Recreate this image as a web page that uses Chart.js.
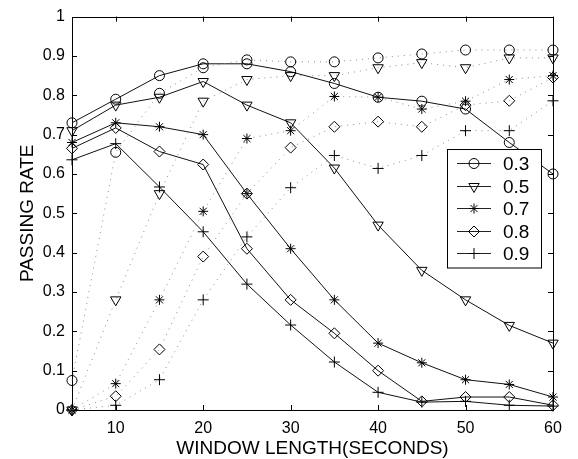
<!DOCTYPE html>
<html>
<head>
<meta charset="utf-8">
<script src="https://cdn.jsdelivr.net/npm/chart.js@4/dist/chart.umd.min.js"></script>
<style>
  html, body { margin: 0; padding: 0; background: #fff; }
  #wrap { width: 578px; height: 459px; }
</style>
</head>
<body>
<div id="wrap"><canvas id="chart"></canvas></div>
<script>
// window length (seconds)
const windowLength = [5, 10, 15, 20, 25, 30, 35, 40, 45, 50, 55, 60];
const xTicks = [10, 20, 30, 40, 50, 60];
const yTicks = [0, 0.1, 0.2, 0.3, 0.4, 0.5, 0.6, 0.7, 0.8, 0.9, 1];

// thresholds shown in the legend
const thresholds = ['0.3', '0.5', '0.7', '0.8', '0.9'];

// solid curves
const solid03 = [0.73, 0.79, 0.85, 0.88, 0.88, 0.86, 0.83, 0.795, 0.785, 0.765, 0.68, 0.60];
const solid05 = [0.71, 0.775, 0.795, 0.835, 0.775, 0.73, 0.615, 0.47, 0.355, 0.28, 0.215, 0.17];
const solid07 = [0.68, 0.73, 0.72, 0.70, 0.55, 0.41, 0.28, 0.17, 0.12, 0.077, 0.065, 0.033];
const solid08 = [0.665, 0.717, 0.657, 0.624, 0.41, 0.28, 0.195, 0.10, 0.022, 0.033, 0.033, 0.012];
const solid09 = [0.636, 0.677, 0.567, 0.453, 0.32, 0.216, 0.122, 0.045, 0.02, 0.022, 0.012, 0.01];

// dotted curves
const dotted03 = [0.075, 0.655, 0.805, 0.87, 0.89, 0.885, 0.885, 0.895, 0.905, 0.915, 0.915, 0.915];
const dotted05 = [0, 0.28, 0.55, 0.785, 0.84, 0.85, 0.85, 0.87, 0.883, 0.87, 0.895, 0.895];
const dotted07 = [0, 0.067, 0.28, 0.505, 0.69, 0.71, 0.797, 0.795, 0.765, 0.785, 0.84, 0.85];
const dotted08 = [0, 0.035, 0.154, 0.39, 0.55, 0.667, 0.72, 0.733, 0.72, 0.775, 0.786, 0.845];
const dotted09 = [0, 0.012, 0.077, 0.28, 0.44, 0.565, 0.647, 0.614, 0.647, 0.71, 0.71, 0.786];

const solidSeries = [solid03, solid05, solid07, solid08, solid09];
const dottedSeries = [dotted03, dotted05, dotted07, dotted08, dotted09];
const markers = [
  { style: 'circle', rotation: 0, radius: 5 },
  { style: 'triangle', rotation: 180, radius: 6 },
  { style: 'star', rotation: 0, radius: 5 },
  { style: 'rectRot', rotation: 0, radius: 5.5 },
  { style: 'cross', rotation: 0, radius: 5.5 }
];

const FONT = "'Liberation Sans', Arial, Helvetica, sans-serif";

function toPoints(values) {
  return windowLength.map((x, i) => ({ x: x, y: values[i] }));
}

const datasets = [];
dottedSeries.forEach((vals, i) => {
  datasets.push({
    label: thresholds[i] + ' dotted',
    data: toPoints(vals),
    borderColor: '#8a8a8a',
    borderWidth: 1,
    borderDash: [1, 5],
    pointStyle: markers[i].style,
    pointRotation: markers[i].rotation,
    pointRadius: markers[i].radius,
    pointBorderColor: '#000',
    pointBackgroundColor: 'rgba(0,0,0,0)',
    pointBorderWidth: 1,
    tension: 0,
    clip: false,
    inLegend: false
  });
});
solidSeries.forEach((vals, i) => {
  datasets.push({
    label: thresholds[i],
    data: toPoints(vals),
    borderColor: '#111',
    borderWidth: 1,
    pointStyle: markers[i].style,
    pointRotation: markers[i].rotation,
    pointRadius: markers[i].radius,
    pointBorderColor: '#000',
    pointBackgroundColor: 'rgba(0,0,0,0)',
    pointBorderWidth: 1,
    tension: 0,
    clip: false,
    inLegend: true
  });
});

// box around the plot with inward tick marks on all sides
const frameTicks = {
  id: 'frameTicks',
  beforeDatasetsDraw(chart) {
    const { ctx, chartArea: a, scales } = chart;
    const len = 5;
    ctx.save();
    ctx.strokeStyle = '#000';
    ctx.lineWidth = 1;
    ctx.beginPath();
    ctx.rect(Math.round(a.left) + 0.5, Math.round(a.top) + 0.5,
      Math.round(a.right - a.left), Math.round(a.bottom - a.top));
    xTicks.forEach(v => {
      const px = Math.round(scales.x.getPixelForValue(v)) + 0.5;
      ctx.moveTo(px, a.bottom);
      ctx.lineTo(px, a.bottom - len);
      ctx.moveTo(px, a.top);
      ctx.lineTo(px, a.top + len);
    });
    yTicks.forEach(v => {
      const py = Math.round(scales.y.getPixelForValue(v)) + 0.5;
      ctx.moveTo(a.left, py);
      ctx.lineTo(a.left + len, py);
      ctx.moveTo(a.right, py);
      ctx.lineTo(a.right - len, py);
    });
    ctx.stroke();
    ctx.restore();
  }
};

// legend box inside the plot
const boxLegend = {
  id: 'boxLegend',
  afterDatasetsDraw(chart) {
    const { ctx } = chart;
    const items = chart.data.datasets.filter(d => d.inLegend);
    const left = 447, top = 149, width = 94, rowH = 22.5;
    const height = items.length * rowH + 6;
    ctx.save();
    ctx.fillStyle = '#fff';
    ctx.fillRect(left, top, width, height);
    ctx.strokeStyle = '#000';
    ctx.lineWidth = 1;
    ctx.strokeRect(left + 0.5, top + 0.5, width, height);
    items.forEach((d, i) => {
      const y = Math.round(top + 14 + i * rowH) + 0.5;
      ctx.strokeStyle = '#222';
      ctx.beginPath();
      ctx.moveTo(left + 10, y);
      ctx.lineTo(left + 44, y);
      ctx.stroke();
      ctx.strokeStyle = '#000';
      ctx.fillStyle = 'rgba(0,0,0,0)';
      Chart.helpers.drawPoint(ctx, {
        pointStyle: d.pointStyle,
        rotation: d.pointRotation,
        radius: d.pointRadius,
        borderWidth: 1
      }, left + 27, y);
      ctx.fillStyle = '#000';
      ctx.font = '19px ' + FONT;
      ctx.textAlign = 'left';
      ctx.textBaseline = 'middle';
      ctx.fillText(d.label, left + 56, y + 1);
    });
    ctx.restore();
  }
};

new Chart(document.getElementById('chart'), {
  type: 'line',
  data: { datasets: datasets },
  plugins: [frameTicks, boxLegend],
  options: {
    responsive: true,
    maintainAspectRatio: false,
    animation: false,
    layout: { padding: { left: 0, right: 25, top: 8, bottom: 0 } },
    plugins: {
      legend: { display: false },
      tooltip: { enabled: false }
    },
    scales: {
      x: {
        type: 'linear',
        min: 5,
        max: 60,
        afterBuildTicks: scale => { scale.ticks = xTicks.map(v => ({ value: v })); },
        afterFit: scale => { scale.height = 49; },
        grid: { display: false, drawTicks: false },
        border: { display: false },
        ticks: {
          color: '#000',
          padding: 9,
          maxRotation: 0,
          font: { family: FONT, size: 16 }
        },
        title: {
          display: true,
          text: 'WINDOW LENGTH(SECONDS)',
          color: '#000',
          font: { family: FONT, size: 19 },
          padding: { top: 0, bottom: -1 }
        }
      },
      y: {
        min: 0,
        max: 1,
        afterBuildTicks: scale => { scale.ticks = yTicks.map(v => ({ value: v })); },
        afterFit: scale => { scale.width = 72; },
        grid: { display: false, drawTicks: false },
        border: { display: false },
        ticks: {
          color: '#000',
          padding: 7,
          font: { family: FONT, size: 16 },
          callback: v => String(Math.round(v * 10) / 10)
        },
        title: {
          display: true,
          text: 'PASSING RATE',
          color: '#000',
          font: { family: FONT, size: 19 },
          padding: { top: 16, bottom: 0 }
        }
      }
    }
  }
});
</script>
</body>
</html>
